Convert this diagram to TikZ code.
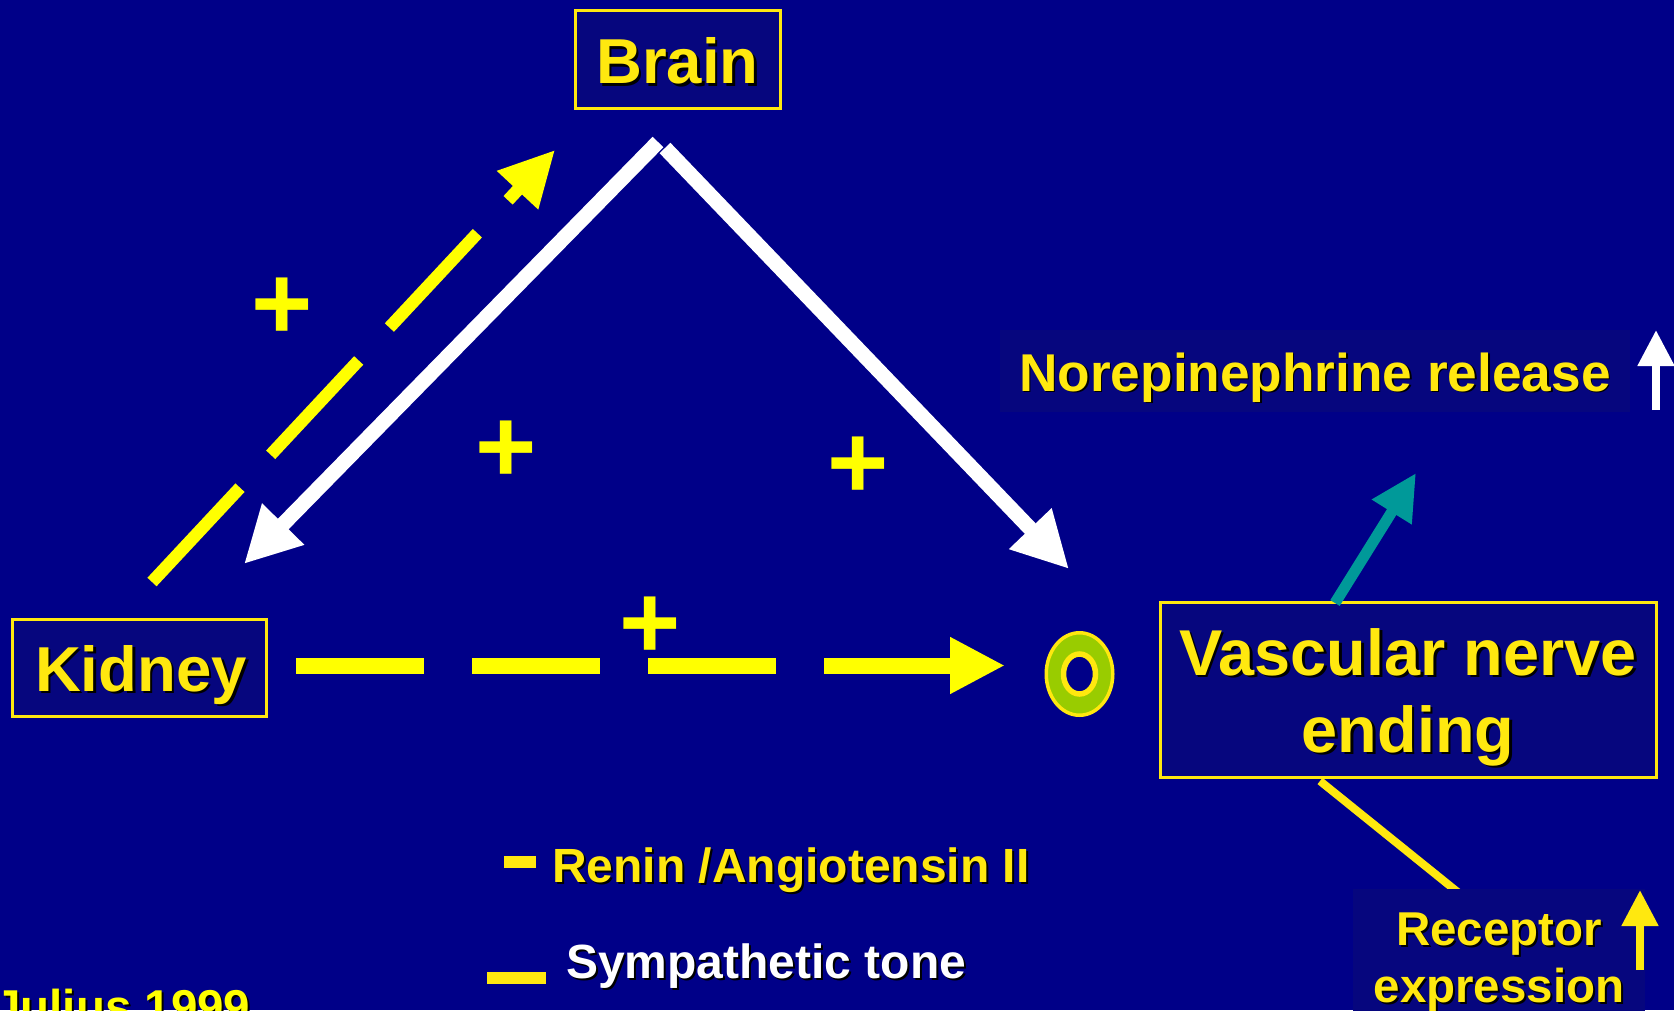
\documentclass[tikz,border=0pt]{standalone}
\usepackage{fontspec}
\setmainfont{Liberation Sans}
\usetikzlibrary{arrows.meta,shapes.geometric}
\definecolor{bgnavy}{HTML}{000088}
\definecolor{boxnavy}{HTML}{06067E}
\definecolor{txtyel}{HTML}{FFE80F}
\definecolor{pureyel}{HTML}{FFFF00}
\definecolor{tealarrow}{HTML}{009999}
\definecolor{ringgreen}{HTML}{99CC00}
\newcommand{\shd}[2][2.5pt]{\leavevmode\rlap{\kern#1\raisebox{-#1}{\color{black}#2}}#2}
\newcommand{\fs}[2]{\fontsize{#1pt}{#2pt}\selectfont\bfseries}
\tikzset{
  boxed/.style={draw=txtyel,line width=3pt,outer sep=0pt,fill=boxnavy,inner sep=0pt,text=txtyel,align=center},
  plain/.style={fill=boxnavy,inner sep=0pt,text=txtyel,align=center},
  txt/.style={inner sep=0pt,anchor=base west,text=txtyel},
  plus/.style={inner sep=0pt,text=pureyel,font=\fs{105}{105}},
  whitearrow/.style={color=white,line width=15pt,-{Triangle[length=56pt,width=55pt]}},
  yelarrow/.style={color=pureyel,-{Triangle[length=55pt,width=53pt]}},
  smallarrow/.style={line width=8pt,-{Triangle[length=36pt,width=35pt]}},
  dashmark/.style={fill=txtyel,inner sep=0pt},
}
\begin{document}
\begin{tikzpicture}[x=1pt,y=-1pt]
\useasboundingbox (0,0) rectangle (1674,1010);
\clip (0,0) rectangle (1674,1010);
\fill[bgnavy] (0,0) rectangle (1674,1010);

% connector ends
\coordinate (apexL) at (658,142);
\coordinate (apexR) at (665,148);
\coordinate (kidTip) at (244,564);
\coordinate (ringTip) at (1069,569);
\coordinate (kidOut) at (152,582);
\coordinate (brainIn) at (555,150);
\coordinate (hStart) at (296,665.5);
\coordinate (hEnd) at (1005,665.5);
\coordinate (tealEnd) at (1416,473);
\coordinate (tealStart) at (1335,603);
\coordinate (recLine) at (1320,781);
\coordinate (recTop) at (1470,902);
\coordinate (norBottom) at (1656,410);
\coordinate (norTop) at (1656,330);
\coordinate (recBottom) at (1640,970);
\coordinate (recArrTop) at (1640,890);

% line that runs under the receptor box
\draw[draw=txtyel,line width=8pt] (recLine) -- (recTop);

% boxes
\node[boxed,minimum width=205pt,minimum height=98pt,text height=49pt,text depth=0pt,font=\fs{63.5}{63.5}] (brain) at (677.5,59) {\shd{Brain}};
\node[boxed,minimum width=254pt,minimum height=97pt,text height=47pt,text depth=0pt,font=\fs{63.5}{63.5}] (kidney) at (139,667.5) {\hspace*{4pt}\shd{Kidney}};
\node[boxed,minimum width=496pt,minimum height=175pt,font=\fs{64.8}{77}] (vascular) at (1408,689.5) {\rule{0pt}{65pt}\shd{Vascular nerve}\\\shd{ending}};
\node[plain,minimum width=630pt,minimum height=82pt,text height=40pt,text depth=0pt,font=\fs{53.2}{53.2}] (nor) at (1315,371) {\shd[1.5pt]{Norepinephrine release}};
\node[plain,minimum width=292pt,minimum height=148pt,anchor=north,font=\fs{47.5}{57}] (receptor) at (1499,889) {\shd[2pt]{Receptor}\\\shd[2pt]{expression}};

% ring
\node[ellipse,outer sep=0pt,draw=txtyel,fill=ringgreen,line width=3.5pt,minimum width=66.5pt,minimum height=82.5pt,inner sep=0pt] (ring) at (1079.5,674) {};
\node[ellipse,outer sep=0pt,draw=txtyel,fill=bgnavy,line width=5.5pt,minimum width=32pt,minimum height=40pt,inner sep=0pt] (hole) at (ring.center) {};

% white arrows
\draw[whitearrow] (apexL) -- (kidTip);
\draw[whitearrow] (apexR) -- (ringTip);

% yellow dashed arrows
\draw[yelarrow,line width=12.5pt,dash pattern=on 129pt off 45pt] (kidOut) -- (brainIn);
\draw[yelarrow,line width=16pt,dash pattern=on 128pt off 48pt] (hStart) -- (hEnd);

% other connectors
\draw[color=tealarrow,line width=11pt,-{Triangle[length=46pt,width=44pt]}] (tealStart) -- (tealEnd);
\draw[smallarrow,color=white] (norBottom) -- (norTop);
\draw[smallarrow,color=txtyel] (recBottom) -- (recArrTop);

% plus signs
\node[plus] (p1) at (282,309) {+};
\node[plus] (p2) at (506,452) {+};
\node[plus] (p3) at (858,468) {+};
\node[plus] (p4) at (650,628) {+};

% legend
\node[dashmark,minimum width=32pt,minimum height=12pt] (d1) at (520,862) {};
\node[txt,font=\fs{48}{48}] (t1) at (552,882) {\shd[2pt]{Renin /Angiotensin II}};
\node[dashmark,minimum width=59pt,minimum height=12pt] (d2) at (516.5,978) {};
\node[txt,text=white,font=\fs{48}{48}] (t2) at (566,978) {\shd[2pt]{Sympathetic tone}};
\node[txt,text=pureyel,font=\fs{47.5}{47.5}] (t3) at (-6,1023) {\shd[2pt]{Julius 1999}};
\end{tikzpicture}
\end{document}
